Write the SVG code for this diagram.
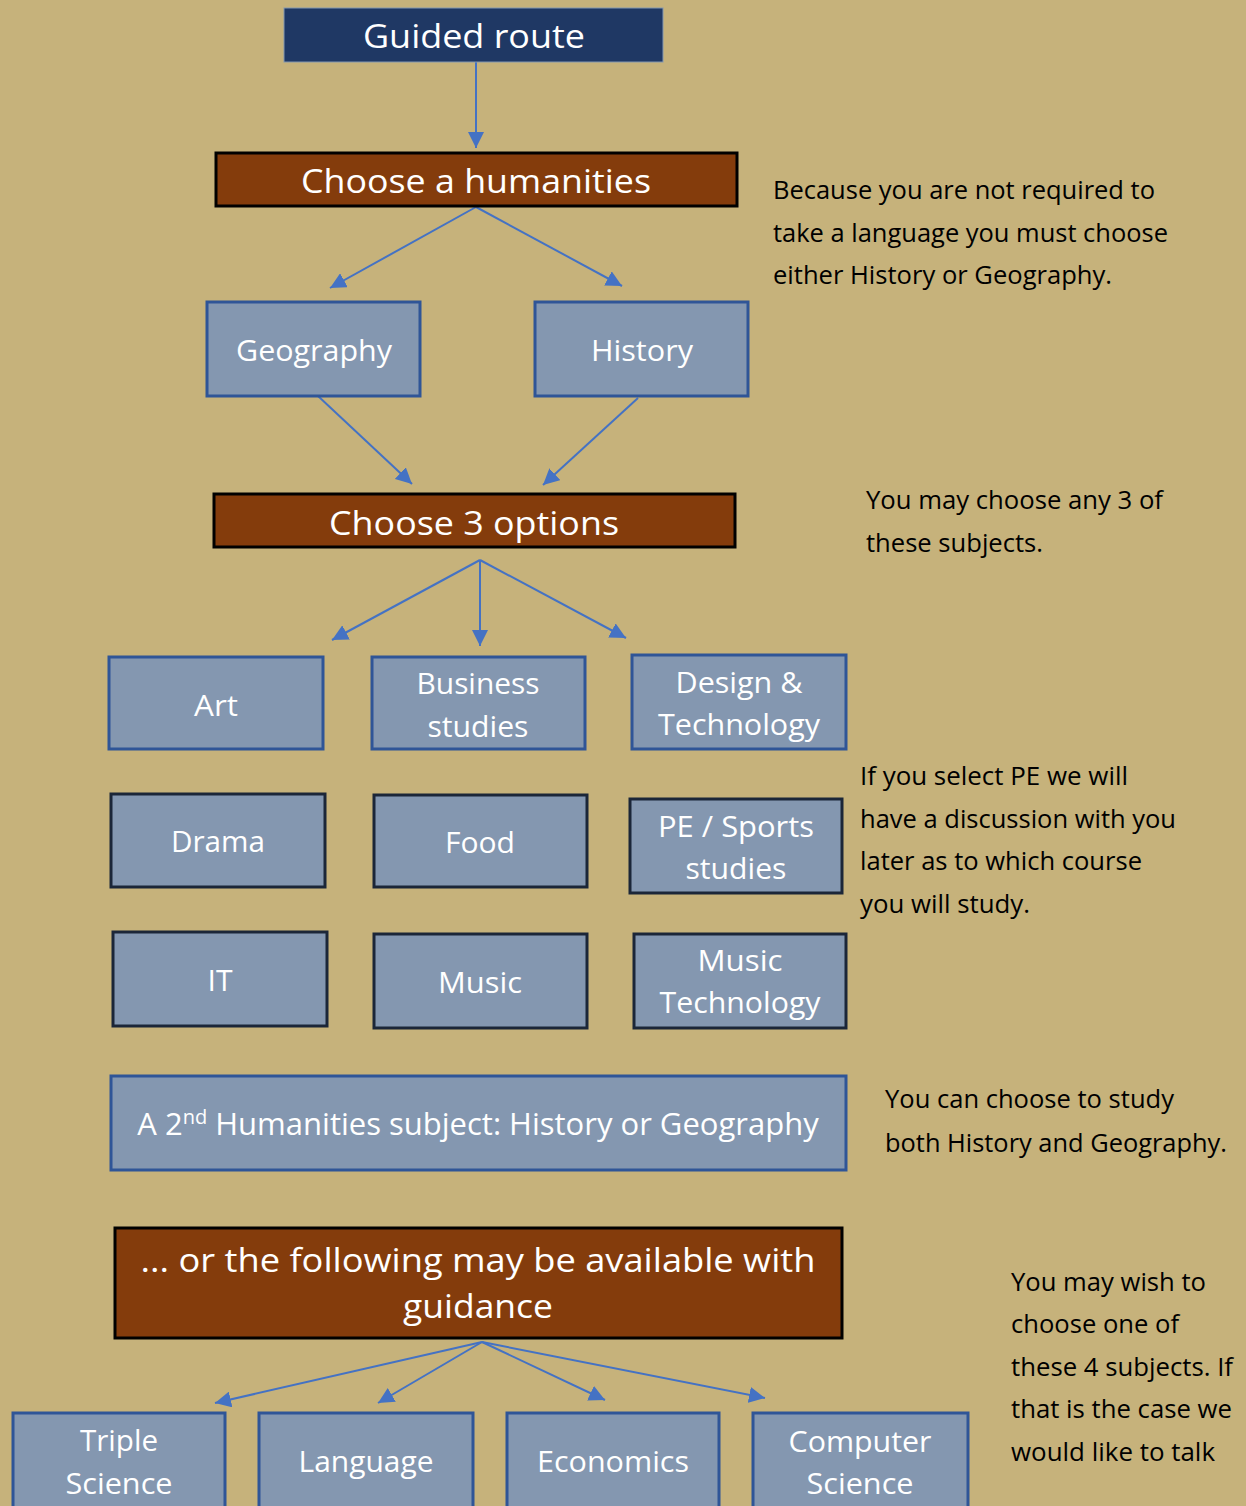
<svg xmlns="http://www.w3.org/2000/svg" width="1246" height="1506" viewBox="0 0 1246 1506">
<defs>
<style>
.bg{fill:#C6B27B}
.navy{fill:#1F3864;stroke:#8497B0;stroke-width:1}
.brown{fill:#843C0C;stroke:#000;stroke-width:3}
.opt{fill:#8497B0;stroke:#2F5597;stroke-width:3}
.optd{fill:#8497B0;stroke:#1B2638;stroke-width:3}
.wt{fill:#fff;font-family:"Open Sans","Noto Sans",sans-serif;text-anchor:middle}
.t1{font-size:33px}
.t2{font-size:30px}
.note{fill:#000;font-family:"Open Sans","Noto Sans",sans-serif;font-size:25px}
.conn line{stroke:#4472C4;stroke-width:2;marker-end:url(#ah)}
</style>
<marker id="ah" markerUnits="userSpaceOnUse" markerWidth="17" markerHeight="16" refX="16" refY="8" orient="auto">
<path d="M0,0 L16,8 L0,16 z" fill="#4472C4"/>
</marker>
</defs>
<rect class="bg" x="0" y="0" width="1246" height="1506"/>

<g id="connectors" class="conn">
<line x1="476" y1="62" x2="476" y2="148"/>
<line x1="476" y1="207" x2="330" y2="288"/>
<line x1="476" y1="207" x2="622" y2="286"/>
<line x1="318" y1="396" x2="412" y2="484"/>
<line x1="638" y1="398" x2="543" y2="485"/>
<line x1="480" y1="560" x2="332" y2="640"/>
<line x1="480" y1="560" x2="480" y2="646"/>
<line x1="480" y1="560" x2="626" y2="638"/>
<line x1="482" y1="1342" x2="215" y2="1403"/>
<line x1="482" y1="1342" x2="378" y2="1403"/>
<line x1="482" y1="1342" x2="605" y2="1400"/>
<line x1="482" y1="1342" x2="765" y2="1398"/>
</g>

<g id="guided-route">
<rect class="navy" x="284" y="8" width="379" height="54"/>
<text class="wt t1" x="474" y="48" textLength="222" lengthAdjust="spacingAndGlyphs">Guided route</text>
</g>
<g id="choose-humanities">
<rect class="brown" x="216" y="153" width="521" height="53"/>
<text class="wt t1" x="476" y="193" textLength="350" lengthAdjust="spacingAndGlyphs">Choose a humanities</text>
</g>
<g id="geography">
<rect class="opt" x="207" y="302" width="213" height="94"/>
<text class="wt t2" x="314" y="361" textLength="156" lengthAdjust="spacingAndGlyphs">Geography</text>
</g>
<g id="history">
<rect class="opt" x="535" y="302" width="213" height="94"/>
<text class="wt t2" x="642" y="361" textLength="102" lengthAdjust="spacingAndGlyphs">History</text>
</g>
<g id="choose-3">
<rect class="brown" x="214" y="494" width="521" height="53"/>
<text class="wt t1" x="474" y="535" textLength="290" lengthAdjust="spacingAndGlyphs">Choose 3 options</text>
</g>

<g id="art">
<rect class="opt" x="109" y="657" width="214" height="92"/>
<text class="wt t2" x="216" y="716" textLength="44" lengthAdjust="spacingAndGlyphs">Art</text>
</g>
<g id="business">
<rect class="opt" x="372" y="657" width="213" height="92"/>
<text class="wt t2" x="478" y="694" textLength="123" lengthAdjust="spacingAndGlyphs">Business</text>
<text class="wt t2" x="478" y="737" textLength="101" lengthAdjust="spacingAndGlyphs">studies</text>
</g>
<g id="design">
<rect class="opt" x="632" y="655" width="214" height="94"/>
<text class="wt t2" x="739" y="693" textLength="127" lengthAdjust="spacingAndGlyphs">Design &amp;</text>
<text class="wt t2" x="739" y="735" textLength="162" lengthAdjust="spacingAndGlyphs">Technology</text>
</g>

<g id="drama">
<rect class="optd" x="111" y="794" width="214" height="93"/>
<text class="wt t2" x="218" y="852" textLength="94" lengthAdjust="spacingAndGlyphs">Drama</text>
</g>
<g id="food">
<rect class="optd" x="374" y="795" width="213" height="92"/>
<text class="wt t2" x="480" y="853" textLength="70" lengthAdjust="spacingAndGlyphs">Food</text>
</g>
<g id="pe">
<rect class="optd" x="630" y="799" width="212" height="94"/>
<text class="wt t2" x="736" y="837" textLength="156" lengthAdjust="spacingAndGlyphs">PE / Sports</text>
<text class="wt t2" x="736" y="879" textLength="101" lengthAdjust="spacingAndGlyphs">studies</text>
</g>

<g id="it">
<rect class="optd" x="113" y="932" width="214" height="94"/>
<text class="wt t2" x="220" y="991" textLength="25" lengthAdjust="spacingAndGlyphs">IT</text>
</g>
<g id="music">
<rect class="optd" x="374" y="934" width="213" height="94"/>
<text class="wt t2" x="480" y="993" textLength="84" lengthAdjust="spacingAndGlyphs">Music</text>
</g>
<g id="music-tech">
<rect class="optd" x="634" y="934" width="212" height="94"/>
<text class="wt t2" x="740" y="971" textLength="85" lengthAdjust="spacingAndGlyphs">Music</text>
<text class="wt t2" x="740" y="1013" textLength="161" lengthAdjust="spacingAndGlyphs">Technology</text>
</g>

<g id="second-humanities">
<rect class="opt" x="111" y="1076" width="735" height="94"/>
<text class="wt" font-size="31" x="478" y="1135">A 2<tspan font-size="20" dy="-11">nd</tspan><tspan dy="11"> Humanities subject: History or Geography</tspan></text>
</g>

<g id="guidance">
<rect class="brown" x="115" y="1228" width="727" height="110"/>
<text class="wt t1" x="478" y="1272" textLength="675" lengthAdjust="spacingAndGlyphs">... or the following may be available with</text>
<text class="wt t1" x="478" y="1318" textLength="150" lengthAdjust="spacingAndGlyphs">guidance</text>
</g>

<g id="triple-science">
<rect class="opt" x="13" y="1413" width="212" height="100"/>
<text class="wt t2" x="119" y="1451" textLength="78" lengthAdjust="spacingAndGlyphs">Triple</text>
<text class="wt t2" x="119" y="1494" textLength="107" lengthAdjust="spacingAndGlyphs">Science</text>
</g>
<g id="language">
<rect class="opt" x="259" y="1413" width="214" height="100"/>
<text class="wt t2" x="366" y="1472" textLength="135" lengthAdjust="spacingAndGlyphs">Language</text>
</g>
<g id="economics">
<rect class="opt" x="507" y="1413" width="212" height="100"/>
<text class="wt t2" x="613" y="1472" textLength="152" lengthAdjust="spacingAndGlyphs">Economics</text>
</g>
<g id="computer-science">
<rect class="opt" x="753" y="1413" width="215" height="100"/>
<text class="wt t2" x="860" y="1452" textLength="143" lengthAdjust="spacingAndGlyphs">Computer</text>
<text class="wt t2" x="860" y="1494" textLength="107" lengthAdjust="spacingAndGlyphs">Science</text>
</g>

<g id="note-humanities" class="note">
<text x="773" y="199" textLength="382" lengthAdjust="spacingAndGlyphs">Because you are not required to</text>
<text x="773" y="242" textLength="395" lengthAdjust="spacingAndGlyphs">take a language you must choose</text>
<text x="773" y="284" textLength="339" lengthAdjust="spacingAndGlyphs">either History or Geography.</text>
</g>
<g id="note-options" class="note">
<text x="866" y="509" textLength="297" lengthAdjust="spacingAndGlyphs">You may choose any 3 of</text>
<text x="866" y="552" textLength="177" lengthAdjust="spacingAndGlyphs">these subjects.</text>
</g>
<g id="note-pe" class="note">
<text x="860" y="785" textLength="268" lengthAdjust="spacingAndGlyphs">If you select PE we will</text>
<text x="860" y="828" textLength="316" lengthAdjust="spacingAndGlyphs">have a discussion with you</text>
<text x="860" y="870" textLength="282" lengthAdjust="spacingAndGlyphs">later as to which course</text>
<text x="860" y="913" textLength="170" lengthAdjust="spacingAndGlyphs">you will study.</text>
</g>
<g id="note-second" class="note">
<text x="885" y="1108" textLength="289" lengthAdjust="spacingAndGlyphs">You can choose to study</text>
<text x="885" y="1152" textLength="342" lengthAdjust="spacingAndGlyphs">both History and Geography.</text>
</g>
<g id="note-guidance" class="note">
<text x="1011" y="1291" textLength="195" lengthAdjust="spacingAndGlyphs">You may wish to</text>
<text x="1011" y="1333" textLength="168" lengthAdjust="spacingAndGlyphs">choose one of</text>
<text x="1011" y="1376" textLength="222" lengthAdjust="spacingAndGlyphs">these 4 subjects. If</text>
<text x="1011" y="1418" textLength="221" lengthAdjust="spacingAndGlyphs">that is the case we</text>
<text x="1011" y="1461" textLength="204" lengthAdjust="spacingAndGlyphs">would like to talk</text>
</g>
</svg>
